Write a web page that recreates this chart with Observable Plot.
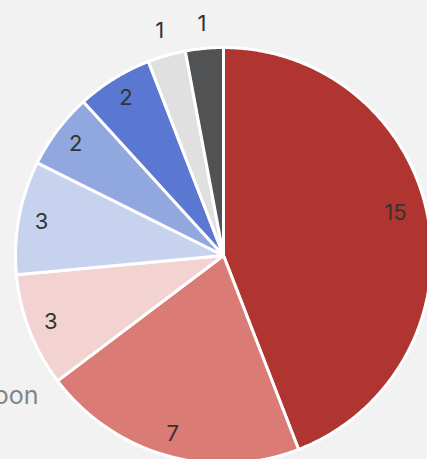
<!DOCTYPE html>
<html><head><meta charset="utf-8">
<script src="https://cdn.jsdelivr.net/npm/d3@7"></script>
<script src="https://cdn.jsdelivr.net/npm/@observablehq/plot@0.6"></script>
<style>html,body{margin:0;padding:0;background:#f2f2f2;overflow:hidden}</style>
</head><body><div id="chart"></div>
<script>
const categories = ["Slice A","Slice B","Slice C","Slice D","Slice E","Slice F","Slice G","Slice H"];
const values = [15, 7, 3, 3, 2, 2, 1, 1];
const colors = ["#b03530","#db7b75","#f2d3d2","#c7d2ee","#91a7e0","#5a78d2","#e0e0e0","#505254"];
const legendLabel = "Baboon";

const rows = categories.map((c, i) => ({category: c, value: values[i]}));
const arcs = d3.pie().sort(null).value(d => d.value)(rows);

const poly = [];
arcs.forEach(s => {
  const cat = s.data.category;
  poly.push({cat, x: 0, y: 0});
  const n = Math.max(2, Math.ceil((s.endAngle - s.startAngle) / (Math.PI / 360)));
  for (let k = 0; k <= n; k++) {
    const a = s.startAngle + (s.endAngle - s.startAngle) * k / n;
    poly.push({cat, x: Math.sin(a), y: Math.cos(a)});
  }
});

const maxV = d3.max(values);
const labels = arcs.map(s => {
  const m = (s.startAngle + s.endAngle) / 2;
  const r = s.data.value === 1 ? 1.12 : 0.89;
  return {x: r * Math.sin(m), y: r * Math.cos(m), text: String(s.data.value), big: s.data.value === maxV};
});

const R = 208, cx = 223, cy = 255, W = 427, H = 459;
const chart = Plot.plot({
  width: W, height: H, margin: 0,
  style: {background: "#f2f2f2", overflow: "hidden"},
  x: {domain: [-cx / R, (W - cx) / R], axis: null},
  y: {domain: [-(H - cy) / R, cy / R], axis: null},
  color: {domain: categories, range: colors},
  marks: [
    Plot.line(poly, {x: "x", y: "y", z: "cat", fill: "cat", stroke: "white", strokeWidth: 3, strokeLinejoin: "round", curve: "linear-closed"}),
    Plot.text(labels.filter(d => !d.big), {x: "x", y: "y", text: "text", fontSize: 22, fill: "#333", fontFamily: "Inter"}),
    Plot.text(labels.filter(d => d.big), {x: "x", y: "y", text: "text", fontSize: 22, fill: "#333", fontFamily: "Inter", dx: -10, dy: -9}),
    Plot.text([legendLabel], {frameAnchor: "bottom-left", text: d => d, textAnchor: "end", lineAnchor: "bottom", dx: 38, dy: -56, fontSize: 25, fill: "#80858a", fontFamily: "Inter"})
  ]
});
document.getElementById("chart").appendChild(chart);
</script>
</body></html>
